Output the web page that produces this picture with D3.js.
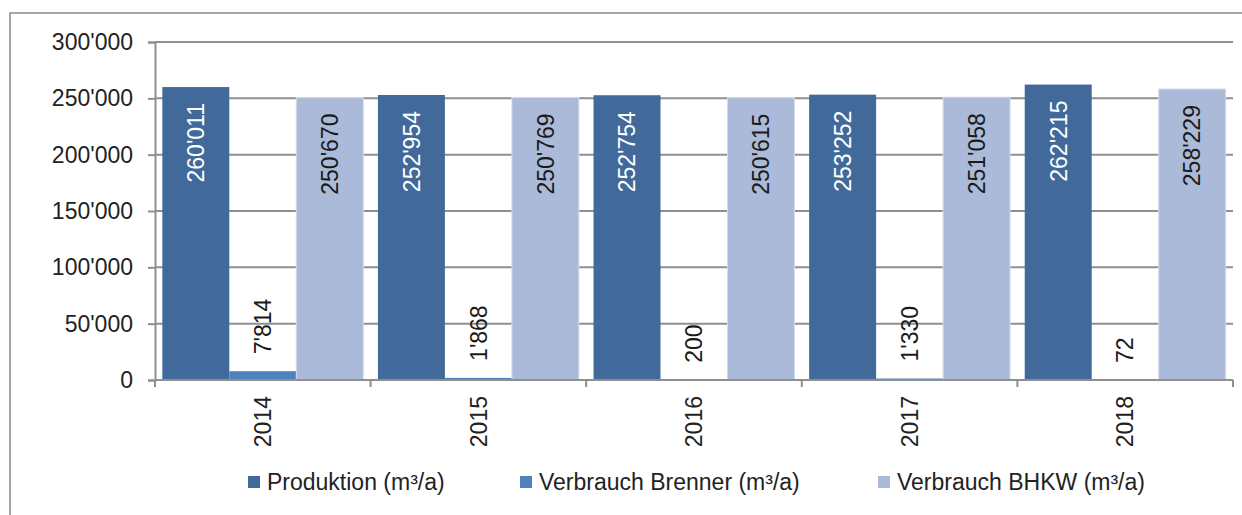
<!DOCTYPE html>
<html>
  <head>
    <script src="https://d3js.org/d3.v7.min.js"></script>
    <style type="text/css">
body {
  margin: 0;
  background: #fff;
}
svg {
  font-family: "Liberation Sans", Arial, sans-serif;
}
.grid line {
  stroke: #8f8f8f;
  stroke-width: 2px;
}
    </style>
  </head>
  <body>
    <script type="text/javascript">

var years = ["2014", "2015", "2016", "2017", "2018"];
var series = ["Produktion (m³/a)", "Verbrauch Brenner (m³/a)", "Verbrauch BHKW (m³/a)"];
var produktion = [260011, 252954, 252754, 253252, 262215];
var brenner = [7814, 1868, 200, 1330, 72];
var bhkw = [250670, 250769, 250615, 251058, 258229];
var yTicks = [0, 50000, 100000, 150000, 200000, 250000, 300000];

var colors = ["#416a9b", "#4f81bd", "#aabad8"];
var labelColors = ["#fff", "#1a1a1a", "#1a1a1a"];
var values = [produktion, brenner, bhkw];

var width = 1242,
    height = 515,
    mLeft = 155,
    mRight = 1233,
    mTop = 42,
    mBottom = 380,
    fs = 23;

var loc = d3.formatLocale({decimal: ".", thousands: "'", grouping: [3], currency: ["", ""]});
var fmt = loc.format(",d");

var svg = d3.select("body").append("svg")
    .attr("width", width)
    .attr("height", height);

// outer frame
svg.append("rect")
    .attr("x", 10).attr("y", 13)
    .attr("width", 1240).attr("height", 520)
    .attr("fill", "none")
    .attr("stroke", "#8a8a8a")
    .attr("stroke-width", 1.5);

var x0 = d3.scaleBand().domain(years).range([mLeft, mRight]);
var gap = x0.bandwidth() * 0.034;
var x1 = d3.scaleBand().domain(series).range([gap, x0.bandwidth() - gap]);
var y = d3.scaleLinear().domain([0, 300000]).range([mBottom, mTop]);

// gridlines
svg.append("g")
    .attr("class", "grid")
    .selectAll("line")
    .data(yTicks.slice(1))
    .enter().append("line")
    .attr("x1", mLeft).attr("x2", mRight)
    .attr("y1", function(d) { return y(d); })
    .attr("y2", function(d) { return y(d); });

// y axis
var yAxis = svg.append("g")
    .attr("transform", "translate(" + mLeft + ",0)")
    .call(d3.axisLeft(y).tickValues(yTicks).tickSize(7).tickPadding(15).tickFormat(fmt));
yAxis.selectAll("line, path").attr("stroke", "#8f8f8f").attr("stroke-width", 2);
yAxis.selectAll("text").attr("font-size", fs).attr("fill", "#222");
yAxis.attr("font-family", null);

// bars
var rows = [];
years.forEach(function(yr, i) {
  series.forEach(function(s, j) {
    rows.push({year: yr, s: s, j: j, v: values[j][i]});
  });
});

var bars = svg.append("g").selectAll("g")
    .data(rows)
    .enter().append("g")
    .attr("transform", function(d) { return "translate(" + (x0(d.year) + x1(d.s)) + ",0)"; });

bars.append("rect")
    .attr("x", 0)
    .attr("width", x1.bandwidth())
    .attr("y", function(d) { return y(d.v); })
    .attr("height", function(d) { return mBottom - y(d.v); })
    .attr("fill", function(d) { return colors[d.j]; })
    .attr("stroke", function(d) { return d.j == 2 ? "#d4dcec" : "none"; })
    .attr("stroke-width", 1);

bars.append("text")
    .attr("transform", function(d) {
      var cx = x1.bandwidth() / 2;
      var ty = d.j == 1 ? y(d.v) - 17 : y(d.v) + 16;
      return "translate(" + cx + "," + ty + ") rotate(-90)";
    })
    .attr("text-anchor", function(d) { return d.j == 1 ? "start" : "end"; })
    .attr("dy", "0.36em")
    .attr("font-size", fs)
    .attr("fill", function(d) { return labelColors[d.j]; })
    .text(function(d) { return fmt(d.v); });

// x axis
var xAxis = svg.append("g")
    .attr("transform", "translate(0," + mBottom + ")");
xAxis.append("line")
    .attr("x1", mLeft).attr("x2", mRight)
    .attr("stroke", "#8f8f8f").attr("stroke-width", 2);
xAxis.selectAll("line.tick")
    .data(years.concat(["end"]))
    .enter().append("line")
    .attr("class", "tick")
    .attr("x1", function(d, i) { return mLeft + i * x0.bandwidth(); })
    .attr("x2", function(d, i) { return mLeft + i * x0.bandwidth(); })
    .attr("y1", 0).attr("y2", 7)
    .attr("stroke", "#8f8f8f").attr("stroke-width", 2);
xAxis.selectAll("text")
    .data(years)
    .enter().append("text")
    .attr("transform", function(d) {
      return "translate(" + (x0(d) + x0.bandwidth() / 2) + ",16) rotate(-90)";
    })
    .attr("text-anchor", "end")
    .attr("dy", "0.36em")
    .attr("font-size", fs)
    .attr("fill", "#222")
    .text(function(d) { return d; });

// legend
var legendX = [248, 520, 878];
var leg = svg.append("g").selectAll("g")
    .data(series)
    .enter().append("g")
    .attr("transform", function(d, i) { return "translate(" + legendX[i] + ",482)"; });
leg.append("rect")
    .attr("x", 0).attr("y", -6)
    .attr("width", 12).attr("height", 12)
    .attr("fill", function(d, i) { return colors[i]; });
leg.append("text")
    .attr("x", 19)
    .attr("dy", "0.36em")
    .attr("font-size", fs)
    .attr("fill", "#222")
    .text(function(d) { return d; });

    </script>
  </body>
</html>
